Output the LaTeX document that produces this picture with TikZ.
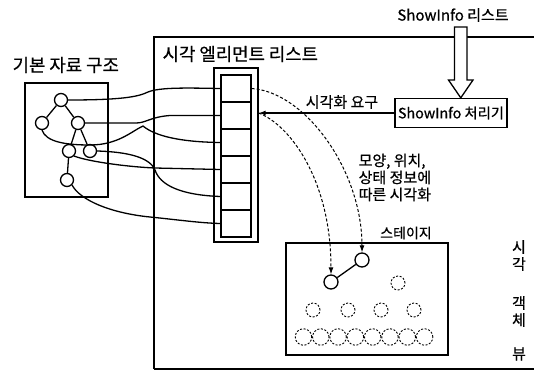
\documentclass[tikz,border=0pt]{standalone}
\usepackage{fontspec}
\setmainfont{Noto Sans CJK KR}[FakeBold=0.6]
\usetikzlibrary{arrows.meta}
\begin{document}
\begin{tikzpicture}[x=1pt,y=-1pt,line width=1.3pt,
  lbl/.style={inner sep=0pt,font=\fontsize{15}{17}\selectfont},
  big/.style={inner sep=0pt,font=\fontsize{17.8}{19}\selectfont},
  tnode/.style={circle,draw,fill=white,minimum size=13pt,inner sep=0pt},
  cell/.style={draw,minimum width=30pt,minimum height=27pt,inner sep=0pt},
  dnode/.style={circle,draw,dashed,dash pattern=on 2pt off 1.6pt,line width=0.9pt,minimum size=14pt,inner sep=0pt},
  snode/.style={circle,draw,minimum size=14pt,inner sep=0pt},
  dcon/.style={dashed,dash pattern=on 3pt off 2pt,line width=1pt},
  arr/.style={-{Latex[length=7pt,width=5pt]}}]
\useasboundingbox (0,0) rectangle (534,372);

% frame
\draw (154,369) -- (154,37) -- (534,37);
\draw (154,369) -- (534,369);

% left data structure
\node[big,anchor=west] (ttl1) at (12,65) {기본 자료 구조};
\node[draw,minimum width=83pt,minimum height=114pt,inner sep=0pt] (dbox) at (66.5,140) {};
\node[tnode] (n1) at (61,100) {};
\node[tnode] (n2) at (42,123) {};
\node[tnode] (n3) at (78,123) {};
\node[tnode] (n4) at (69,151) {};
\node[tnode] (n5) at (90,151) {};
\node[tnode] (n6) at (67,180) {};
\draw (n1) -- (n2);
\draw (n1) -- (n3);
\draw (n3) -- (n4);
\draw (n3) -- (n5);
\draw (n4) -- (n6);

% element list
\node[big,anchor=west] (ttl2) at (162,54) {시각 엘리먼트 리스트};
\node[draw,minimum width=44pt,minimum height=174pt,inner sep=0pt] (elist) at (236,155) {};
\node[cell] (c1) at (236,88.5) {};
\node[cell] (c2) at (236,115.5) {};
\node[cell] (c3) at (236,142.5) {};
\node[cell] (c4) at (236,169.5) {};
\node[cell] (c5) at (236,196.5) {};
\node[cell] (c6) at (236,223.5) {};

% connectors data -> list
\draw (n1.east) .. controls (120,100) and (138,97) .. (148,92) .. controls (160,87) and (190,88) .. (c1.west);
\draw (n3.east) -- (136,123) .. controls (146,123) and (150,117) .. (170,115.5) -- (c2.west);
\draw (n2.south) .. controls (46,142) and (66,145) .. (90,145) .. controls (118,145) and (132,131) .. (143,126) .. controls (155,136) and (180,142) .. (c3.west);
\draw (n4.south east) .. controls (90,162) and (130,167) .. (155,168) -- (c4.west);
\draw (n5.east) .. controls (130,152) and (150,158) .. (155,170) .. controls (160,185) and (180,195) .. (c5.west);
\draw (n6.south east) .. controls (80,200) and (110,213) .. (150,217) .. controls (180,220) and (200,223) .. (c6.west);

% ShowInfo
\node[lbl] (slist) at (453,15) {ShowInfo 리스트};
\node[draw,minimum width=112pt,minimum height=29pt,inner sep=0pt,font=\fontsize{14.3}{16}\selectfont] (proc) at (451,113) {ShowInfo 처리기};
\draw[fill=white] (454.5,27) -- (467,27) -- (467,80) -- (473,80) -- (proc.north -| 460.75,0) -- (448.5,80) -- (454.5,80) -- cycle;
\draw[arr] (proc.west) -- (proc.west -| elist.east) coordinate (req);
\node[lbl] (vreq) at (342,102) {시각화 요구};
\node[lbl,align=left,anchor=north west] (shape) at (358,153) {모양, 위치,\\상태 정보에\\따른 시각화};

% stage
\node[lbl,font=\fontsize{14}{16}\selectfont] (stl) at (406,233) {스테이지};
\node[draw,minimum width=162pt,minimum height=112pt,inner sep=0pt] (stage) at (367,299) {};
\node[snode] (s1) at (331,282) {};
\node[snode] (s2) at (362,260) {};
\draw (s1) -- (s2);
\node[dnode] (d0) at (398,283) {};
\node[dnode] (b1) at (313,310) {};
\node[dnode] (b2) at (348,310) {};
\node[dnode] (b3) at (381,310) {};
\node[dnode] (b4) at (414,310) {};
\foreach \i in {0,...,7} {
  \node[dnode,minimum size=16.5pt] (r\i) at ({303.5+\i*17.3},337) {};
}

% dashed visualisation links
\draw[dcon,arr] (c1.east) .. controls (305,92) and (362,170) .. (s2.north);
\draw[dcon,arr] (req) .. controls (290,125) and (331,180) .. (s1.north);

% vertical label
\node[lbl] (v1) at (519,247) {시};
\node[lbl] (v2) at (519,264) {각};
\node[lbl] (v3) at (519,303) {객};
\node[lbl] (v4) at (519,320) {체};
\node[lbl] (v5) at (519,354) {뷰};
\end{tikzpicture}
\end{document}
